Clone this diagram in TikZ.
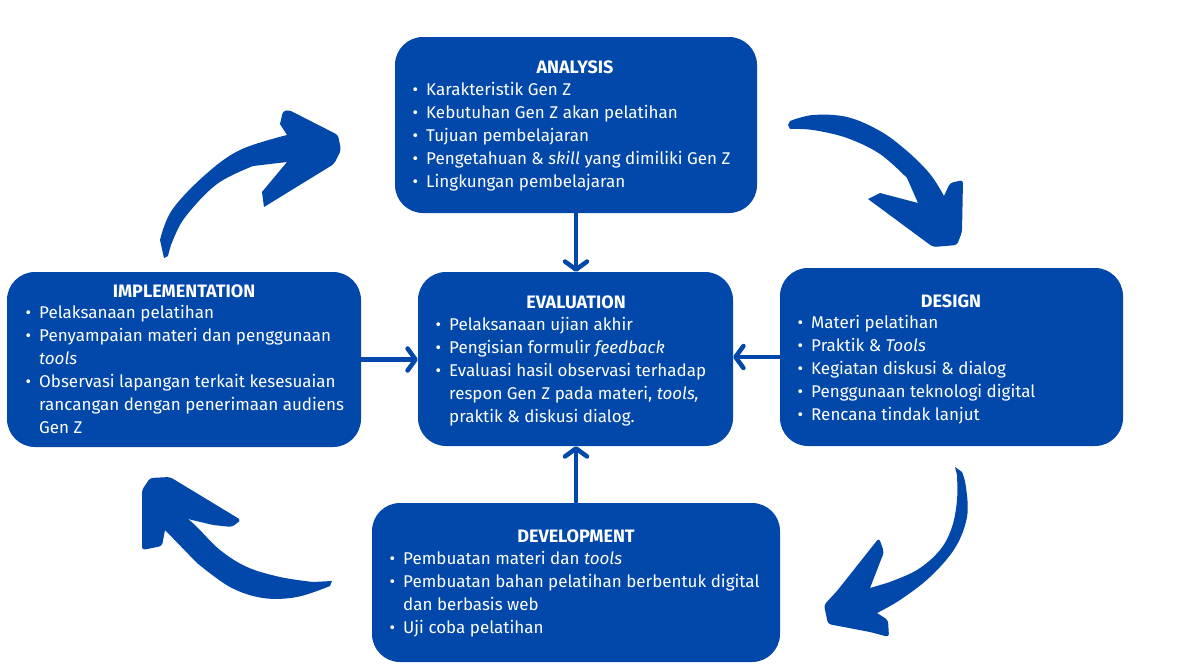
\documentclass[tikz,border=0pt]{standalone}
\usepackage{fontspec}
\setmainfont{Fira Sans}
\usetikzlibrary{arrows.meta}
\definecolor{cob}{RGB}{2,72,170}
\newcommand\bul{\llap{\textbullet\hspace{8pt}}}
\begin{document}
\begin{tikzpicture}[x=1pt,y=-1pt,
 box/.style={fill=cob, rounded corners=28pt, inner sep=0pt, draw=none},
 ttl/.style={text=white, font=\fontsize{18}{20}\selectfont\bfseries, inner sep=0pt},
 txt/.style={text=white, font=\fontsize{17}{20}\selectfont, inner sep=0pt, anchor=base west},
 link/.style={draw=cob, line width=4.5pt, -{Straight Barb[round,length=8pt,width=22pt,line width=4.5pt]}},
 bigarrow/.style={fill=cob, draw=none}]
\useasboundingbox (0,0) rectangle (1183,664);
\fill[white] (0,0) rectangle (1183,664);

% boxes
\node[box, minimum width=362pt, minimum height=176pt] (an) at (576,125) {};
\node[box, minimum width=315pt, minimum height=174pt] (ev) at (575.5,359) {};
\node[box, minimum width=354pt, minimum height=175pt] (im) at (184,359.5) {};
\node[box, minimum width=343pt, minimum height=178pt] (de) at (951.5,357) {};
\node[box, minimum width=408pt, minimum height=159pt] (dv) at (576,582.5) {};

% titles
\node[ttl] (ant) at (575,67) {ANALYSIS};
\node[ttl] (evt) at (576,302) {EVALUATION};
\node[ttl] (imt) at (184,291) {IMPLEMENTATION};
\node[ttl] (det) at (951,301) {DESIGN};
\node[ttl] (dvt) at (576,536) {DEVELOPMENT};

% bodies
\foreach \t [count=\i] in {{\bul Karakteristik Gen Z},{\bul Kebutuhan Gen Z akan pelatihan},{\bul Tujuan pembelajaran},{\bul Pengetahuan \& \textit{skill} yang dimiliki Gen Z},{\bul Lingkungan pembelajaran}}
  \node[txt] (an\i) at (426,95.5+23*\i-23) {\t};
\foreach \t [count=\i] in {{\bul Pelaksanaan ujian akhir},{\bul Pengisian formulir \textit{feedback}},{\bul Evaluasi hasil observasi terhadap},{respon Gen Z pada materi, \textit{tools,}},{praktik \& diskusi dialog.}}
  \node[txt] (ev\i) at (449,330.5+23*\i-23) {\t};
\foreach \t [count=\i] in {{\bul Pelaksanaan pelatihan},{\bul Penyampaian materi dan penggunaan},{\textit{tools}},{\bul Observasi lapangan terkait kesesuaian},{rancangan dengan penerimaan audiens},{Gen Z}}
  \node[txt] (im\i) at (39,318.5+23*\i-23) {\t};
\foreach \t [count=\i] in {{\bul Materi pelatihan},{\bul Praktik \& \textit{Tools}},{\bul Kegiatan diskusi \& dialog},{\bul Penggunaan teknologi digital},{\bul Rencana tindak lanjut}}
  \node[txt] (de\i) at (811,328.5+23*\i-23) {\t};
\foreach \t [count=\i] in {{\bul Pembuatan materi dan \textit{tools}},{\bul Pembuatan bahan pelatihan berbentuk digital},{dan berbasis web},{\bul Uji coba pelatihan}}
  \node[txt] (dv\i) at (403,564.5+23*\i-23) {\t};

% straight connectors
\draw[link] (an.south) -- (an.south |- ev.north);
\draw[link] (dv.north) -- (dv.north |- ev.south);
\draw[link] (im.east) -- (im.east -| ev.west);
\draw[link] (de.west) -- (de.west -| ev.east);

% big curved arrows
% implementation -> analysis
\fill[bigarrow] (164,258) -- plot[smooth, tension=0.6] coordinates {(160,240) (172,210) (205,175) (240,150) (287,135)}
  -- (280,124) [rounded corners=3pt] -- (283,111) -- (289,110) -- (338,135) -- (341,150) -- (334,164) [sharp corners]
  -- (264,207) -- (262,192) -- (287,162)
  -- plot[smooth, tension=0.6] coordinates {(253,166) (217,184) (186,216) (173,240) (168,256)} -- cycle;
% analysis -> design
\fill[bigarrow] (788,125) -- plot[smooth, tension=0.6] coordinates {(790,121) (813,115) (847,117) (880,131) (907,151) (930,174) (944,196)}
  [rounded corners=3pt] -- (950,183) -- (963,180) -- (962,232) -- (957,245) -- (933,247) [sharp corners]
  -- (868,199) -- (880,193) -- (918,203)
  -- plot[smooth, tension=0.6] coordinates {(907,178) (880,154) (847,138) (813,130) (790,129)} -- cycle;
% design -> development
\fill[bigarrow] (955,467) -- plot[smooth, tension=0.6] coordinates {(962,472) (966,487) (967,517) (955,548) (930,577) (900,600) (877,613)}
  [rounded corners=3pt] -- (888,620) -- (889,637) -- (870,632) -- (828,624) -- (824,605) -- (837,591) -- (879,538) -- (884,552) [sharp corners]
  -- (870,588)
  -- plot[smooth, tension=0.6] coordinates {(887,583) (917,570) (940,550) (952,527) (957,500) (957,475)} -- cycle;
% development -> implementation
\fill[bigarrow] (332,581) -- plot[smooth, tension=0.6] coordinates {(313,582) (280,577) (247,567) (220,550) (197,527) (188,519)}
  [rounded corners=3pt] -- (213,525) -- (232,527) -- (241,520) -- (170,477) -- (150,478) -- (142,490) -- (142,550) -- (162,546) [sharp corners]
  -- (165,530)
  -- plot[smooth, tension=0.6] coordinates {(197,563) (230,587) (263,598) (297,597) (330,586)} -- cycle;
\end{tikzpicture}
\end{document}
